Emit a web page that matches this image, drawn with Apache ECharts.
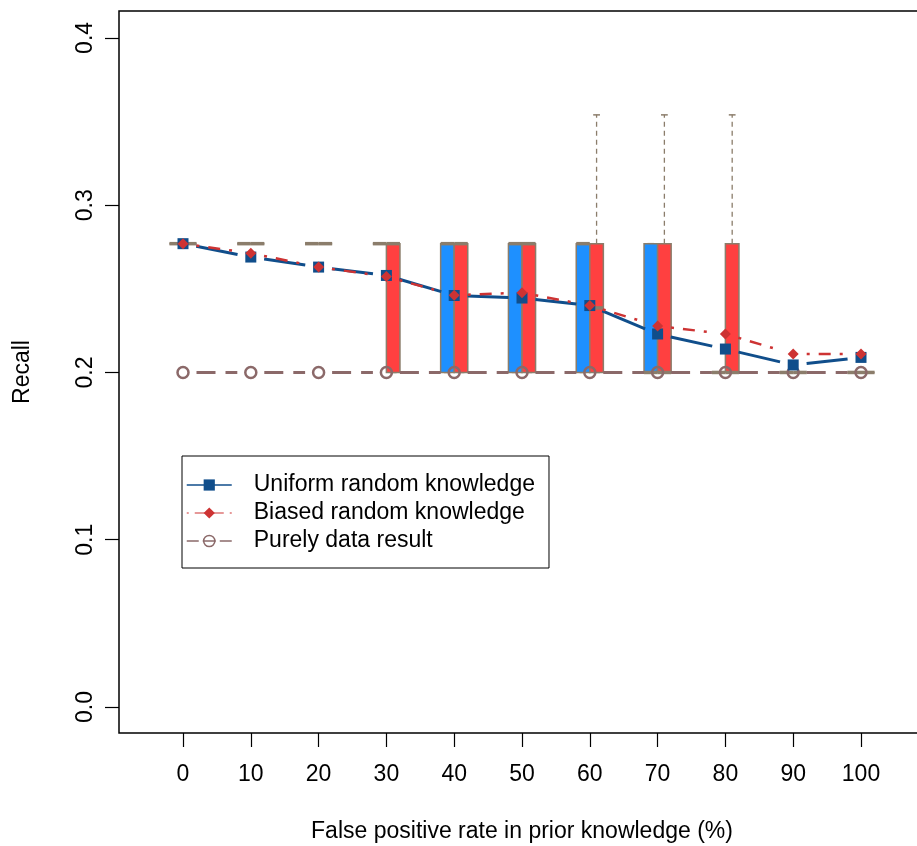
<!DOCTYPE html>
<html><head><meta charset="utf-8">
<script src="https://cdn.jsdelivr.net/npm/echarts@6/dist/echarts.min.js"></script>
<style>html,body{margin:0;padding:0;background:#fff}#c{width:917px;height:846px}</style>
</head><body><div id="c"></div>
<script>
// ---- data ----
const categories = [0, 10, 20, 30, 40, 50, 60, 70, 80, 90, 100];
const yTicks = [0, 0.1, 0.2, 0.3, 0.4];
const yTickLabels = ['0.0', '0.1', '0.2', '0.3', '0.4'];
const uniformMean = [0.277, 0.269, 0.263, 0.258, 0.246, 0.2445, 0.240, 0.223, 0.214, 0.2045, 0.209];
const biasedMean  = [0.277, 0.2713, 0.263, 0.2573, 0.2462, 0.2477, 0.240, 0.2278, 0.223, 0.211, 0.211];
const dataOnly    = [0.2, 0.2, 0.2, 0.2, 0.2, 0.2, 0.2, 0.2, 0.2, 0.2, 0.2];
// box stats: [min, q1, median, q3, max]
const uniformBox = [
  [0.277, 0.277, 0.277, 0.277, 0.277],
  [0.277, 0.277, 0.277, 0.277, 0.277],
  [0.277, 0.277, 0.277, 0.277, 0.277],
  [0.277, 0.277, 0.277, 0.277, 0.277],
  [0.2, 0.2, 0.277, 0.277, 0.277],
  [0.2, 0.2, 0.277, 0.277, 0.277],
  [0.2, 0.2, 0.277, 0.277, 0.277],
  [0.2, 0.2, 0.2, 0.277, 0.277],
  [0.2, 0.2, 0.2, 0.2, 0.2],
  [0.2, 0.2, 0.2, 0.2, 0.2],
  [0.2, 0.2, 0.2, 0.2, 0.2]
];
const biasedBox = [
  [0.277, 0.277, 0.277, 0.277, 0.277],
  [0.277, 0.277, 0.277, 0.277, 0.277],
  [0.277, 0.277, 0.277, 0.277, 0.277],
  [0.2, 0.2, 0.277, 0.277, 0.277],
  [0.2, 0.2, 0.277, 0.277, 0.277],
  [0.2, 0.2, 0.277, 0.277, 0.277],
  [0.2, 0.2, 0.2386, 0.277, 0.354],
  [0.2, 0.2, 0.2, 0.277, 0.354],
  [0.2, 0.2, 0.2, 0.277, 0.354],
  [0.2, 0.2, 0.2, 0.2, 0.2],
  [0.2, 0.2, 0.2, 0.2, 0.2]
];
const seriesNames = ['Uniform random knowledge', 'Biased random knowledge', 'Purely data result'];

// ---- styles ----
const FONT = '"Liberation Sans", Arial, Helvetica, sans-serif';
const FS = 23;
const TAN = '#8B7D6B';
const BLUE_FILL = '#1E90FF';
const RED_FILL = '#FF4040';
const BLUE = '#104E8B';
const RED = '#CD3333';
const BROWN = '#8B6969';

const idx = categories.map((c, i) => i);

function boxRenderer(offset, fill) {
  return function (params, api) {
    const i = api.value(0);
    const half = api.size([0.1, 0])[0];
    const cx = api.coord([i + offset, 0])[0];
    const y = k => api.coord([i + offset, api.value(k)])[1];
    const yMin = y(1), yQ1 = y(2), yMed = y(3), yQ3 = y(4), yMax = y(5);
    const cap = half / 2;
    const ch = [];
    if (yMax < yQ3 - 0.5) ch.push({type: 'line', shape: {x1: cx, y1: yQ3, x2: cx, y2: yMax},
      style: {stroke: TAN, lineWidth: 1.3, lineDash: [5, 4]}});
    if (yMin > yQ1 + 0.5) ch.push({type: 'line', shape: {x1: cx, y1: yQ1, x2: cx, y2: yMin},
      style: {stroke: TAN, lineWidth: 1.3, lineDash: [5, 4]}});
    ch.push({type: 'line', shape: {x1: cx - cap, y1: yMax, x2: cx + cap, y2: yMax}, style: {stroke: TAN, lineWidth: 1.5}});
    ch.push({type: 'line', shape: {x1: cx - cap, y1: yMin, x2: cx + cap, y2: yMin}, style: {stroke: TAN, lineWidth: 1.5}});
    ch.push({type: 'rect', shape: {x: cx - half, y: yQ3, width: 2 * half, height: Math.max(yQ1 - yQ3, 0)},
      style: {fill: fill, stroke: TAN, lineWidth: 1.5}});
    ch.push({type: 'line', shape: {x1: cx - half, y1: yMed, x2: cx + half, y2: yMed}, style: {stroke: TAN, lineWidth: 3.5}});
    return {type: 'group', children: ch};
  };
}

function segRenderer(style) {
  return function (params, api) {
    const p1 = api.coord([api.value(0), api.value(1)]);
    const p2 = api.coord([api.value(2), api.value(3)]);
    const dx = p2[0] - p1[0], dy = p2[1] - p1[1];
    const L = Math.hypot(dx, dy);
    const g = 13.5;
    if (L <= 2 * g) return;
    const ux = dx / L, uy = dy / L;
    return {type: 'line',
      shape: {x1: p1[0] + ux * g, y1: p1[1] + uy * g, x2: p2[0] - ux * g, y2: p2[1] - uy * g},
      style: Object.assign({fill: null}, style)};
  };
}

const segData = vals => vals.slice(0, -1).map((v, i) => [i, v, i + 1, vals[i + 1]]);
const boxData = arr => arr.map((b, i) => [i].concat(b));
const ptData = vals => vals.map((v, i) => [i, v]);

const chart = echarts.init(document.getElementById('c'), null, {renderer: 'canvas'});
chart.setOption({
  animation: false,
  backgroundColor: '#fff',
  grid: {left: 119, top: 11, right: -8, bottom: 113, show: true, borderColor: '#000', borderWidth: 1.5,
    backgroundColor: 'transparent', outerBoundsMode: 'none', containLabel: false},
  xAxis: {
    type: 'value', min: -0.944, max: 10.944,
    splitLine: {show: false}, axisLine: {show: false, onZero: false},
    axisTick: {show: true, length: 14, lineStyle: {color: '#000', width: 1.2}, customValues: idx},
    axisLabel: {customValues: idx, formatter: v => String(categories[Math.round(v)]),
      margin: 30, fontSize: FS, color: '#000', fontFamily: FONT},
    name: 'False positive rate in prior knowledge (%)', nameLocation: 'middle', nameGap: 87,
    nameTextStyle: {fontSize: FS, color: '#000', fontFamily: FONT}
  },
  yAxis: {
    type: 'value', min: -0.01555, max: 0.4161,
    splitLine: {show: false}, axisLine: {show: false, onZero: false},
    axisTick: {show: true, length: 14, lineStyle: {color: '#000', width: 1.2}, customValues: yTicks},
    axisLabel: {customValues: yTicks, rotate: 90,
      formatter: v => { const k = yTicks.findIndex(t => Math.abs(t - v) < 1e-9); return k >= 0 ? yTickLabels[k] : ''; },
      margin: 22, fontSize: FS, color: '#000', fontFamily: FONT},
    name: 'Recall', nameLocation: 'middle', nameGap: 85, nameRotate: 90,
    nameTextStyle: {fontSize: FS, color: '#000', fontFamily: FONT}
  },
  legend: {
    orient: 'vertical', left: 182, top: 456,
    padding: [17, 14, 15, 4], itemGap: 4, itemWidth: 45, itemHeight: 14,
    borderColor: '#000', borderWidth: 1, backgroundColor: '#fff',
    selectedMode: false,
    textStyle: {fontSize: FS, color: '#000', fontFamily: FONT, lineHeight: 24, padding: [0, 0, 0, 17]},
    data: [
      {name: seriesNames[0], lineStyle: {color: BLUE, width: 1.5, type: 'solid', opacity: 1},
        itemStyle: {color: BLUE, borderWidth: 0, opacity: 1}},
      {name: seriesNames[1], lineStyle: {color: RED, width: 1.2, type: [2, 6, 29, 6, 2], opacity: 1},
        itemStyle: {color: RED, borderWidth: 0, opacity: 1}},
      {name: seriesNames[2], lineStyle: {color: BROWN, width: 1.5, type: [12, 4, 13, 4, 12], opacity: 1},
        itemStyle: {color: 'rgba(0,0,0,0)', borderColor: BROWN, borderWidth: 1.5, opacity: 1}}
    ]
  },
  series: [
    {type: 'custom', name: 'uniformBox', data: boxData(uniformBox), encode: {x: 0, y: [1, 2, 3, 4, 5]},
      renderItem: boxRenderer(-0.1, BLUE_FILL), z: 2, silent: true},
    {type: 'custom', name: 'biasedBox', data: boxData(biasedBox), encode: {x: 0, y: [1, 2, 3, 4, 5]},
      renderItem: boxRenderer(0.1, RED_FILL), z: 2, silent: true},
    {type: 'custom', name: 'dataSeg', data: segData(dataOnly), encode: {x: [0, 2], y: [1, 3]},
      renderItem: segRenderer({stroke: BROWN, lineWidth: 3, lineDash: [19, 10]}), z: 3, silent: true},
    {type: 'custom', name: 'uniformSeg', data: segData(uniformMean), encode: {x: [0, 2], y: [1, 3]},
      renderItem: segRenderer({stroke: BLUE, lineWidth: 3}), z: 3, silent: true},
    {type: 'custom', name: 'biasedSeg', data: segData(biasedMean), encode: {x: [0, 2], y: [1, 3]},
      renderItem: segRenderer({stroke: RED, lineWidth: 2.5, lineDash: [3, 9, 12, 9]}), z: 3, silent: true},
    {type: 'line', name: seriesNames[2], data: ptData(dataOnly), symbol: 'circle', symbolSize: 11,
      itemStyle: {color: 'rgba(0,0,0,0)', borderColor: BROWN, borderWidth: 2.5},
      lineStyle: {width: 1, opacity: 0}, z: 4, silent: true},
    {type: 'line', name: seriesNames[0], data: ptData(uniformMean), symbol: 'rect', symbolSize: 11,
      itemStyle: {color: BLUE}, lineStyle: {width: 1, opacity: 0}, z: 5, silent: true},
    {type: 'line', name: seriesNames[1], data: ptData(biasedMean), symbol: 'diamond', symbolSize: 11,
      itemStyle: {color: RED}, lineStyle: {width: 1, opacity: 0}, z: 6, silent: true}
  ]
});
</script></body></html>
